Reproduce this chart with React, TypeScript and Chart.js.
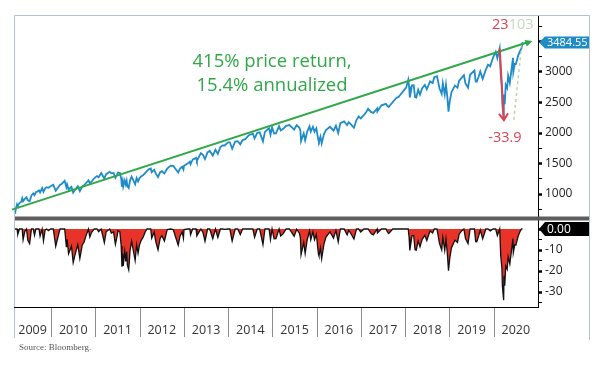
import React, { useEffect, useRef } from 'react';
import { Chart, registerables } from 'chart.js';

Chart.register(...registerables);

// ---- Data ----
const dates: string[] = [
  '2009-03-09','2009-03-16','2009-03-26','2009-04-01','2009-04-15','2009-04-30','2009-05-08','2009-05-15','2009-05-29','2009-06-12','2009-06-23','2009-07-08','2009-07-23','2009-08-07','2009-08-17','2009-08-28','2009-09-11','2009-09-23','2009-10-02','2009-10-19','2009-10-30','2009-11-13','2009-11-25','2009-12-10','2009-12-28',
  '2010-01-19','2010-02-08','2010-02-26','2010-03-15','2010-03-31','2010-04-23','2010-05-07','2010-05-13','2010-05-25','2010-06-18','2010-07-02','2010-07-16','2010-08-09','2010-08-26','2010-09-15','2010-09-30','2010-10-15','2010-11-05','2010-11-16','2010-12-01','2010-12-22',
  '2011-01-14','2011-01-28','2011-02-18','2011-03-16','2011-03-31','2011-04-29','2011-05-13','2011-05-31','2011-06-15','2011-06-30','2011-07-07','2011-07-22','2011-08-02','2011-08-08','2011-08-15','2011-08-19','2011-08-31','2011-09-09','2011-09-16','2011-09-22','2011-10-03','2011-10-14','2011-10-27','2011-11-09','2011-11-25','2011-12-07','2011-12-19','2011-12-30',
  '2012-01-13','2012-01-31','2012-02-15','2012-03-01','2012-03-16','2012-04-02','2012-04-10','2012-04-30','2012-05-15','2012-06-01','2012-06-19','2012-07-03','2012-07-24','2012-08-16','2012-09-14','2012-10-05','2012-10-23','2012-11-15','2012-11-30','2012-12-18','2012-12-28',
  '2013-01-02','2013-01-31','2013-02-19','2013-02-25','2013-03-14','2013-04-11','2013-04-18','2013-05-21','2013-06-07','2013-06-24','2013-07-15','2013-08-02','2013-08-27','2013-09-18','2013-10-08','2013-10-29','2013-11-15','2013-12-03','2013-12-31',
  '2014-01-15','2014-02-03','2014-02-28','2014-03-21','2014-04-11','2014-04-30','2014-05-23','2014-06-20','2014-07-24','2014-08-07','2014-08-29','2014-09-18','2014-10-15','2014-10-31','2014-11-28','2014-12-05','2014-12-16','2014-12-29',
  '2015-01-15','2015-01-30','2015-02-25','2015-03-10','2015-03-31','2015-04-24','2015-05-21','2015-06-15','2015-06-29','2015-07-20','2015-08-12','2015-08-20','2015-08-25','2015-09-16','2015-09-28','2015-10-15','2015-11-03','2015-11-13','2015-12-01','2015-12-14','2015-12-29',
  '2016-01-15','2016-01-20','2016-02-01','2016-02-11','2016-03-01','2016-03-18','2016-04-20','2016-05-19','2016-06-08','2016-06-27','2016-07-15','2016-08-15','2016-09-09','2016-09-22','2016-10-14','2016-11-04','2016-11-25','2016-12-13','2016-12-30',
  '2017-01-26','2017-02-15','2017-03-01','2017-03-27','2017-04-13','2017-05-15','2017-05-17','2017-06-19','2017-07-26','2017-08-10','2017-08-18','2017-09-20','2017-10-20','2017-11-07','2017-11-30','2017-12-18',
  '2018-01-10','2018-01-26','2018-02-02','2018-02-08','2018-02-26','2018-03-12','2018-03-23','2018-04-02','2018-04-18','2018-05-03','2018-05-21','2018-06-12','2018-06-28','2018-07-25','2018-08-15','2018-08-29','2018-09-20','2018-10-11','2018-10-29','2018-11-07','2018-11-23','2018-12-03','2018-12-14','2018-12-24',
  '2019-01-04','2019-01-18','2019-02-15','2019-03-08','2019-03-21','2019-04-12','2019-04-30','2019-05-13','2019-06-03','2019-06-20','2019-07-26','2019-08-05','2019-08-14','2019-08-30','2019-09-12','2019-10-02','2019-10-28','2019-11-15','2019-12-03','2019-12-27',
  '2020-01-17','2020-01-31','2020-02-19','2020-02-28','2020-03-09','2020-03-12','2020-03-16','2020-03-23','2020-03-26','2020-04-01','2020-04-09','2020-04-21','2020-04-29','2020-05-13','2020-06-08','2020-06-11','2020-06-23','2020-07-02','2020-07-22','2020-08-07','2020-08-18','2020-08-26','2020-08-27',
];

const spx: number[] = [
  677,753,832,811,852,873,929,882,919,946,895,880,976,1010,980,1029,1042,1061,1025,1097,1036,1093,1111,1102,1127,
  1150,1056,1104,1150,1169,1217,1111,1157,1074,1117,1022,1065,1127,1047,1125,1141,1176,1225,1178,1206,1258,
  1293,1276,1343,1256,1326,1364,1338,1345,1265,1321,1353,1345,1254,1119,1204,1124,1219,1154,1216,1129,1099,1224,1285,1229,1159,1261,1206,1258,
  1289,1312,1344,1374,1404,1419,1358,1398,1330,1278,1357,1374,1338,1415,1466,1461,1413,1353,1416,1446,1402,
  1462,1498,1530,1488,1563,1593,1541,1669,1643,1573,1682,1709,1630,1725,1656,1771,1798,1795,1848,
  1848,1742,1859,1866,1815,1884,1900,1963,1988,1910,2003,2011,1862,2018,2068,2075,1972,2091,
  1992,1995,2114,2044,2068,2117,2131,2084,2057,2128,2086,2035,1868,1995,1881,2023,2109,2023,2103,2022,2078,
  1880,1859,1940,1829,1978,2049,2102,2040,2119,2001,2162,2190,2128,2177,2133,2085,2213,2271,2239,
  2296,2349,2396,2342,2329,2402,2357,2453,2477,2438,2425,2508,2575,2591,2647,2690,
  2748,2873,2762,2581,2780,2783,2588,2582,2708,2630,2733,2787,2716,2846,2818,2914,2931,2729,2641,2814,2633,2790,2600,2351,
  2532,2671,2776,2743,2855,2907,2946,2812,2744,2954,3026,2845,2840,2926,3010,2888,3039,3120,3093,3240,
  3330,3226,3386,2954,2747,2481,2386,2237,2630,2471,2790,2737,2939,2820,3232,3002,3131,3130,3276,3351,3390,3478,3484.55,
];

const drawdown: number[] = [
  0,0,0,-2.5,0,0,0,-5.1,-1.1,0,-5.4,-7.0,0,0,-3.0,0,0,0,-3.4,0,-5.6,-0.4,0,-0.8,0,
  0,-8.2,-4.0,0,0,0,-8.7,-4.9,-11.8,-8.2,-16.0,-12.5,-7.4,-14.0,-7.6,-6.2,-3.4,0,-3.8,-1.6,0,
  0,-1.3,0,-6.5,-1.3,0,-1.9,-1.4,-7.3,-3.2,-0.8,-1.4,-8.1,-18.0,-11.7,-17.6,-10.6,-15.4,-10.9,-17.2,-19.4,-10.3,-5.8,-9.9,-15.0,-7.6,-11.6,-7.8,
  -5.5,-3.8,-1.5,0,0,0,-4.3,-1.5,-6.3,-9.9,-4.4,-3.2,-5.7,-0.3,0,-0.3,-3.6,-7.7,-3.4,-1.4,-4.4,
  -0.3,0,0,-2.7,0,0,-3.3,0,-1.6,-5.8,0,0,-4.6,0,-4.0,0,0,-0.2,0,
  0,-5.7,0,0,-2.7,0,0,0,0,-3.9,0,0,-7.4,0,0,0,-5.0,0,
  -4.7,-4.6,0,-3.3,-2.2,0,0,-2.2,-3.5,-0.1,-2.1,-4.5,-12.3,-6.4,-11.7,-5.1,-1.0,-5.1,-1.3,-5.1,-2.5,
  -11.8,-12.8,-9.0,-14.2,-7.2,-3.8,-1.4,-4.3,-0.6,-6.1,0,0,-2.8,-0.6,-2.6,-4.8,0,0,-1.4,
  0,0,0,-2.3,-2.8,0,-1.9,0,0,-1.6,-2.1,0,0,0,0,0,
  0,0,-3.9,-10.2,-3.2,-3.1,-9.9,-10.1,-5.7,-8.5,-4.9,-3.0,-5.5,-0.9,-1.9,0,0,-6.9,-9.9,-4.0,-10.2,-4.8,-11.3,-19.8,
  -13.6,-8.9,-5.3,-6.4,-2.6,-0.8,0,-4.5,-6.9,0,0,-6.0,-6.1,-3.3,-0.5,-4.6,0,0,-0.9,0,
  0,-3.1,0,-12.8,-18.9,-26.7,-29.5,-33.9,-22.3,-27.0,-17.6,-19.2,-13.2,-16.7,-4.5,-11.3,-7.5,-7.6,-3.2,-1.0,0,0,0,
];

const yearLabels: string[] = ['2009','2010','2011','2012','2013','2014','2015','2016','2017','2018','2019','2020'];
const priceTickLabels: number[] = [1000, 1500, 2000, 2500, 3000];
const drawdownTickLabels: number[] = [-10, -20, -30];

const axisStart = '2009-03-01';
const axisEnd = '2021-01-01';
const priceMin = 607;
const priceMax = 3934;
const ddMin = -37.14;
const ddMax = 5.24;

const lastValue = 3484.55;
const currentDrawdownLabel = '0.00';
const headline: string[] = ['415% price return,', '15.4% annualized'];
const trendLine = [
  { date: '2009-03-01', value: 745 },
  { date: '2020-11-17', value: 3508 },
];
const selloff = [
  { date: '2020-02-19', value: 3386 },
  { date: '2020-03-25', value: 2210 },
];
const recovery = [
  { date: '2020-06-15', value: 2215 },
  { date: '2020-08-20', value: 3470 },
];
const daysDown = '23';
const daysUp = '103';
const maxDrawdownLabel = '-33.9';
const sourceNote = 'Source: Bloomberg.';

// ---- helpers ----
function toYear(d: string): number {
  const [y, m, dd] = d.split('-').map(Number);
  const s = Date.UTC(y, 0, 1);
  const e = Date.UTC(y + 1, 0, 1);
  return y + (Date.UTC(y, m - 1, dd) - s) / (e - s);
}

const FONT = '"Open Sans", "Noto Sans", sans-serif';
const GREEN = 'rgb(48,168,72)';
const RED = 'rgb(222,66,80)';
const BLUE = 'rgb(30,140,200)';

function tag(ctx: CanvasRenderingContext2D, x0: number, x1: number, cy: number, h: number, color: string, text: string, size: number) {
  ctx.beginPath();
  ctx.moveTo(x0, cy);
  ctx.lineTo(x0 + 6, cy - h / 2);
  ctx.lineTo(x1, cy - h / 2);
  ctx.lineTo(x1, cy + h / 2);
  ctx.lineTo(x0 + 6, cy + h / 2);
  ctx.closePath();
  ctx.fillStyle = color;
  ctx.fill();
  ctx.fillStyle = '#fff';
  ctx.font = `${size}px ${FONT}`;
  ctx.textAlign = 'left';
  ctx.textBaseline = 'middle';
  ctx.fillText(text, x0 + 8, cy + 0.5);
}

const overlay = {
  id: 'overlay',
  afterDraw(chart: any) {
    const { ctx, chartArea, scales } = chart;
    const xs = scales.x, ys = scales.y, ys2 = scales.y2;
    const L = chartArea.left, R = chartArea.right, T = chartArea.top, B = chartArea.bottom;
    const frameR = 589;
    const px = (d: string) => xs.getPixelForValue(toYear(d));
    ctx.save();

    // separator bar between panels
    ctx.fillStyle = '#5e5e5e';
    ctx.fillRect(L, ys.bottom - 1.5, frameR - L, 4);

    // frame
    ctx.strokeStyle = 'rgb(178,194,214)';
    ctx.lineWidth = 1;
    ctx.beginPath();
    ctx.moveTo(L + 0.5, B + 31);
    ctx.lineTo(L + 0.5, T + 0.5);
    ctx.lineTo(frameR + 0.5, T + 0.5);
    ctx.lineTo(frameR + 0.5, B + 33);
    ctx.stroke();

    // bottom axis with year separators
    ctx.strokeStyle = '#000';
    ctx.beginPath();
    ctx.moveTo(L, B + 0.5);
    ctx.lineTo(R, B + 0.5);
    ctx.stroke();
    ctx.strokeStyle = '#8c8c8c';
    const bounds: number[] = [];
    for (let i = 0; i <= yearLabels.length; i++) {
      const yr = Number(yearLabels[0]) + i;
      bounds.push(Math.min(R, Math.max(L, xs.getPixelForValue(yr))));
    }
    for (let i = 1; i < yearLabels.length; i++) {
      const bx = Math.round(bounds[i]) + 0.5;
      ctx.beginPath();
      ctx.moveTo(bx, B + 1);
      ctx.lineTo(bx, B + 30);
      ctx.stroke();
    }
    ctx.fillStyle = '#333';
    ctx.font = `12.5px ${FONT}`;
    ctx.textAlign = 'center';
    ctx.textBaseline = 'middle';
    yearLabels.forEach((lab, i) => {
      ctx.fillText(lab, (bounds[i] + bounds[i + 1]) / 2, B + 23);
    });

    // trend line with arrow
    const tx0 = px(trendLine[0].date), ty0 = ys.getPixelForValue(trendLine[0].value);
    const tx1 = px(trendLine[1].date), ty1 = ys.getPixelForValue(trendLine[1].value);
    ctx.strokeStyle = GREEN;
    ctx.fillStyle = GREEN;
    ctx.lineWidth = 2;
    ctx.beginPath();
    ctx.moveTo(tx0 - 2, ty0);
    ctx.lineTo(tx1 - 4, ty1 + 1);
    ctx.stroke();
    const ang = Math.atan2(ty1 - ty0, tx1 - tx0);
    ctx.beginPath();
    ctx.moveTo(tx1, ty1);
    ctx.lineTo(tx1 - 8 * Math.cos(ang - 0.45), ty1 - 8 * Math.sin(ang - 0.45));
    ctx.lineTo(tx1 - 8 * Math.cos(ang + 0.45), ty1 - 8 * Math.sin(ang + 0.45));
    ctx.closePath();
    ctx.fill();

    // headline
    ctx.font = `18.5px ${FONT}`;
    ctx.textAlign = 'center';
    ctx.textBaseline = 'middle';
    ctx.fillText(headline[0], 272, 62);
    ctx.fillText(headline[1], 272, 86);

    // recovery dashed line
    ctx.strokeStyle = 'rgba(170,200,160,0.8)';
    ctx.lineWidth = 1.5;
    ctx.setLineDash([3, 3]);
    ctx.beginPath();
    ctx.moveTo(px(recovery[0].date), ys.getPixelForValue(recovery[0].value));
    ctx.lineTo(px(recovery[1].date), ys.getPixelForValue(recovery[1].value));
    ctx.stroke();
    ctx.setLineDash([]);

    // sell-off arrow
    const ax0 = px(selloff[0].date), ay0 = ys.getPixelForValue(selloff[0].value);
    const ax1 = px(selloff[1].date), ay1 = ys.getPixelForValue(selloff[1].value);
    ctx.strokeStyle = RED;
    ctx.lineWidth = 2;
    ctx.beginPath();
    ctx.moveTo(ax0, ay0);
    ctx.lineTo(ax1, ay1);
    const a2 = Math.atan2(ay1 - ay0, ax1 - ax0);
    ctx.moveTo(ax1 - 8 * Math.cos(a2 - 0.6), ay1 - 8 * Math.sin(a2 - 0.6));
    ctx.lineTo(ax1, ay1);
    ctx.lineTo(ax1 - 8 * Math.cos(a2 + 0.6), ay1 - 8 * Math.sin(a2 + 0.6));
    ctx.stroke();

    // counts
    ctx.font = `14.5px ${FONT}`;
    ctx.textBaseline = 'middle';
    ctx.textAlign = 'right';
    ctx.fillStyle = RED;
    ctx.fillText(daysDown, ax0 + 9, 25);
    ctx.textAlign = 'left';
    ctx.fillStyle = 'rgb(196,218,190)';
    ctx.fillText(daysUp, ax0 + 9, 25);
    ctx.textAlign = 'center';
    ctx.fillStyle = RED;
    ctx.fillText(maxDrawdownLabel, ax1 + 1, 138);

    // value tags
    tag(ctx, R + 1, frameR, ys.getPixelForValue(lastValue), 12, 'rgb(31,139,196)', lastValue.toFixed(2), 11);
    tag(ctx, R + 1, frameR, ys2.getPixelForValue(0), 14, '#000', currentDrawdownLabel, 12);

    // source
    ctx.fillStyle = '#555';
    ctx.font = '9px "Liberation Serif", serif';
    ctx.textAlign = 'left';
    ctx.textBaseline = 'middle';
    ctx.fillText(sourceNote, 19, 348);

    ctx.restore();
  },
};

export default function App() {
  const ref = useRef<HTMLCanvasElement | null>(null);
  useEffect(() => {
    if (!ref.current) return;
    const xVals = dates.map(toYear);
    const chart = new Chart(ref.current, {
      type: 'line',
      data: {
        datasets: [
          {
            label: 'S&P 500',
            data: xVals.map((x, i) => ({ x, y: spx[i] })),
            yAxisID: 'y',
            borderColor: BLUE,
            borderWidth: 1.8,
            pointRadius: 0,
            tension: 0,
            fill: false,
          },
          {
            label: 'Drawdown',
            data: xVals.map((x, i) => ({ x, y: drawdown[i] })),
            yAxisID: 'y2',
            borderColor: '#111',
            borderWidth: 1.3,
            backgroundColor: 'rgb(232,52,40)',
            pointRadius: 0,
            tension: 0,
            fill: 'origin',
          },
        ],
      },
      options: {
        responsive: false,
        maintainAspectRatio: false,
        animation: false,
        layout: { padding: { left: 14, top: 15, right: 0, bottom: 58 } },
        plugins: { legend: { display: false }, tooltip: { enabled: false } },
        scales: {
          x: { type: 'linear', min: toYear(axisStart), max: toYear(axisEnd), display: false },
          y: {
            type: 'linear',
            position: 'right',
            stack: 'panels',
            stackWeight: 203,
            min: priceMin,
            max: priceMax,
            afterFit: (s: any) => { s.width = 64; },
            border: { display: true, color: '#000', width: 1 },
            grid: {
              drawOnChartArea: false,
              drawTicks: true,
              tickLength: 4,
              tickColor: '#000',
              tickWidth: (c: any) => (c.tick && c.tick.value % 500 === 0 ? 2.5 : 1),
            },
            ticks: {
              stepSize: 250,
              includeBounds: false,
              autoSkip: false,
              padding: 3,
              color: '#222',
              font: { family: FONT, size: 12 },
              callback: (v: any) => (priceTickLabels.includes(Number(v)) ? String(v) : ''),
            },
          },
          y2: {
            type: 'linear',
            position: 'right',
            stack: 'panels',
            stackWeight: 89,
            min: ddMin,
            max: ddMax,
            afterFit: (s: any) => { s.width = 64; },
            border: { display: true, color: '#000', width: 1 },
            grid: {
              drawOnChartArea: false,
              drawTicks: true,
              tickLength: 4,
              tickColor: '#000',
              tickWidth: (c: any) => (c.tick && c.tick.value % 10 === 0 ? 2.5 : 1),
            },
            ticks: {
              stepSize: 5,
              includeBounds: false,
              autoSkip: false,
              padding: 3,
              color: '#222',
              font: { family: FONT, size: 12 },
              callback: (v: any) => (drawdownTickLabels.includes(Number(v)) ? String(v) : ''),
            },
          },
        },
      },
      plugins: [overlay],
    });
    return () => chart.destroy();
  }, []);
  return (
    <div style={{ position: 'fixed', left: 0, top: 0, width: 602, height: 365, background: '#fff' }}>
      <canvas ref={ref} width={602} height={365} style={{ width: 602, height: 365, display: 'block' }} />
    </div>
  );
}
